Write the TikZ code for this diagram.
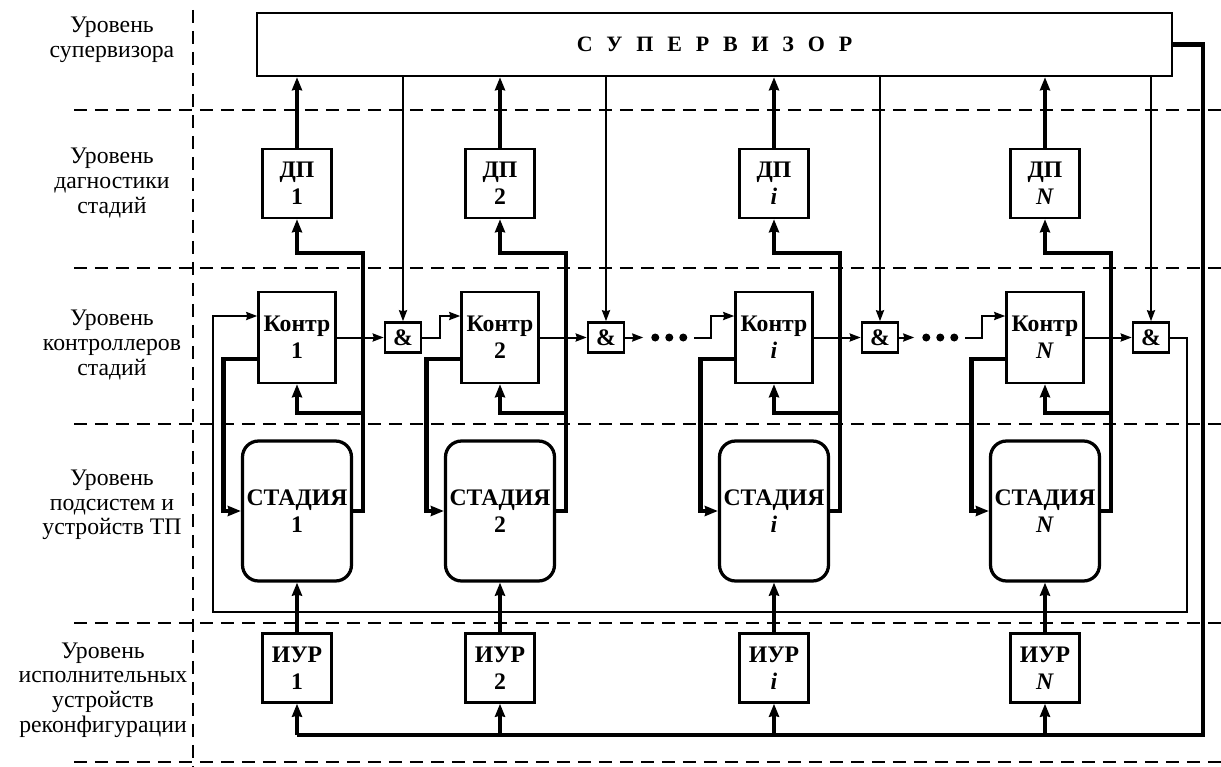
\documentclass[tikz,border=0pt]{standalone}
\usepackage{fontspec}
\setmainfont{Liberation Serif}
\usepackage{tikz}
\usetikzlibrary{positioning, arrows.meta, calc}

\begin{document}
\begin{tikzpicture}[x=0.02cm, y=-0.02cm,
 lbl/.style={align=center, font=\fontsize{13.5pt}{14pt}\selectfont},
 blk/.style={draw, line width=0.05cm, fill=white, align=center, inner sep=0pt,
   font=\fontsize{13.5pt}{15.5pt}\selectfont\bfseries},
 smallbox/.style={blk, minimum width=1.38cm, minimum height=1.38cm},
 ctrl/.style={blk, minimum width=1.54cm, minimum height=1.82cm},
 stage/.style={blk, line width=0.065cm, rounded corners=0.32cm, minimum width=2.18cm, minimum height=2.8cm},
 andgate/.style={blk, minimum width=0.72cm, minimum height=0.6cm},
 lvlsep/.style={line width=0.04cm, dash pattern=on 0.26cm off 0.16cm},
 thinline/.style={line width=0.04cm},
 thickline/.style={line width=0.085cm},
 thinarr/.style={thinline, -{Stealth[length=0.22cm, width=0.16cm, inset=0.02cm]}},
 thickarr/.style={thickline, -{Stealth[length=0.26cm, width=0.2cm, inset=0.02cm]}}]
\useasboundingbox (0,0) rectangle (1221,767);

% level separators
\foreach \y in {110,268,424,623,762}
  \draw[lvlsep] (74,\y) -- (1221,\y);
\draw[lvlsep] (193,10) -- (193,767);

% level names
\node[lbl] (lv1) at (112,40) {Уровень\\супервизора};
\node[lbl] (lv2) at (112,183) {Уровень\\дагностики\\стадий};
\node[lbl] (lv3) at (112,345) {Уровень\\контроллеров\\стадий};
\node[lbl] (lv4) at (112,505) {Уровень\\подсистем и\\устройств ТП};
\node[lbl] (lv5) at (103,690) {Уровень\\исполнительных\\устройств\\реконфигурации};

% supervisor
\node[blk, minimum width=18.3cm, minimum height=1.26cm,
  font=\fontsize{12.5pt}{14pt}\selectfont\bfseries\addfontfeature{LetterSpace=38}]
  (sup) at (714.5,44.5) {С У П Е Р В И З О Р};

% stage columns
\foreach \c/\x/\n in {1/297/1, 2/500/2, i/774/\textit{i}, N/1045/\textit{N}} {
  \node[smallbox] (dp\c) at (\x,183.5) {ДП\\\n};
  \node[ctrl] (k\c) at (\x,337.5) {Контр\\\n};
  \node[stage] (st\c) at (\x,511) {СТАДИЯ\\\n};
  \node[smallbox] (iur\c) at (\x,668) {ИУР\\\n};
  \node[andgate] (and\c) at (\x+106,337.5) {\&};
}

\coordinate (bus) at (1203,735);
\coordinate (fb) at (213,612);

\foreach \c in {1,2,i,N} {
  \draw[thickarr] (dp\c.north) -- (dp\c.north |- sup.south);
  \draw[thinarr] (and\c.north |- sup.south) -- (and\c.north);
  \draw[thickarr] (st\c.east) -| ($(dp\c.south)+(1.32cm,-0.68cm)$) -| (dp\c.south);
  \draw[thickarr] ($(k\c.south)+(1.32cm,-0.58cm)$) -| (k\c.south);
  \draw[thickarr] ([yshift=-0.43cm]k\c.west) -| ([xshift=-0.35cm]st\c.west) -- (st\c.west);
  \draw[thinarr] (k\c.east) -- (and\c.west);
  \draw[thickarr] (iur\c) -- (st\c);
  \draw[thickarr] (iur\c.south |- bus) -- (iur\c.south);
}

% chain of controllers
\draw[thinarr] (and1.east) -- ++(0.36cm,0) |- ([yshift=0.43cm]k2.west);
\draw[thinarr] (and2.east) -- ++(0.36cm,0);
\draw[thinarr] ([xshift=-0.8cm]ki.west) -- ++(0.34cm,0) |- ([yshift=0.43cm]ki.west);
\draw[thinarr] (andi.east) -- ++(0.3cm,0);
\draw[thinarr] ([xshift=-0.8cm]kN.west) -- ++(0.34cm,0) |- ([yshift=0.43cm]kN.west);
\foreach \d in {1.58,1.3,1.02} {
  \fill ([xshift=-\d cm]ki.west) circle (0.08cm);
  \fill ([xshift=-\d cm]kN.west) circle (0.08cm);
}
\draw[thinarr] (andN.east) -- ++(0.34cm,0) |- (fb) |- ([yshift=0.43cm]k1.west);

% reconfiguration bus
\draw[thickline] (sup.east) -| (bus) -- (bus -| iur1.south);

\end{tikzpicture}
\end{document}
